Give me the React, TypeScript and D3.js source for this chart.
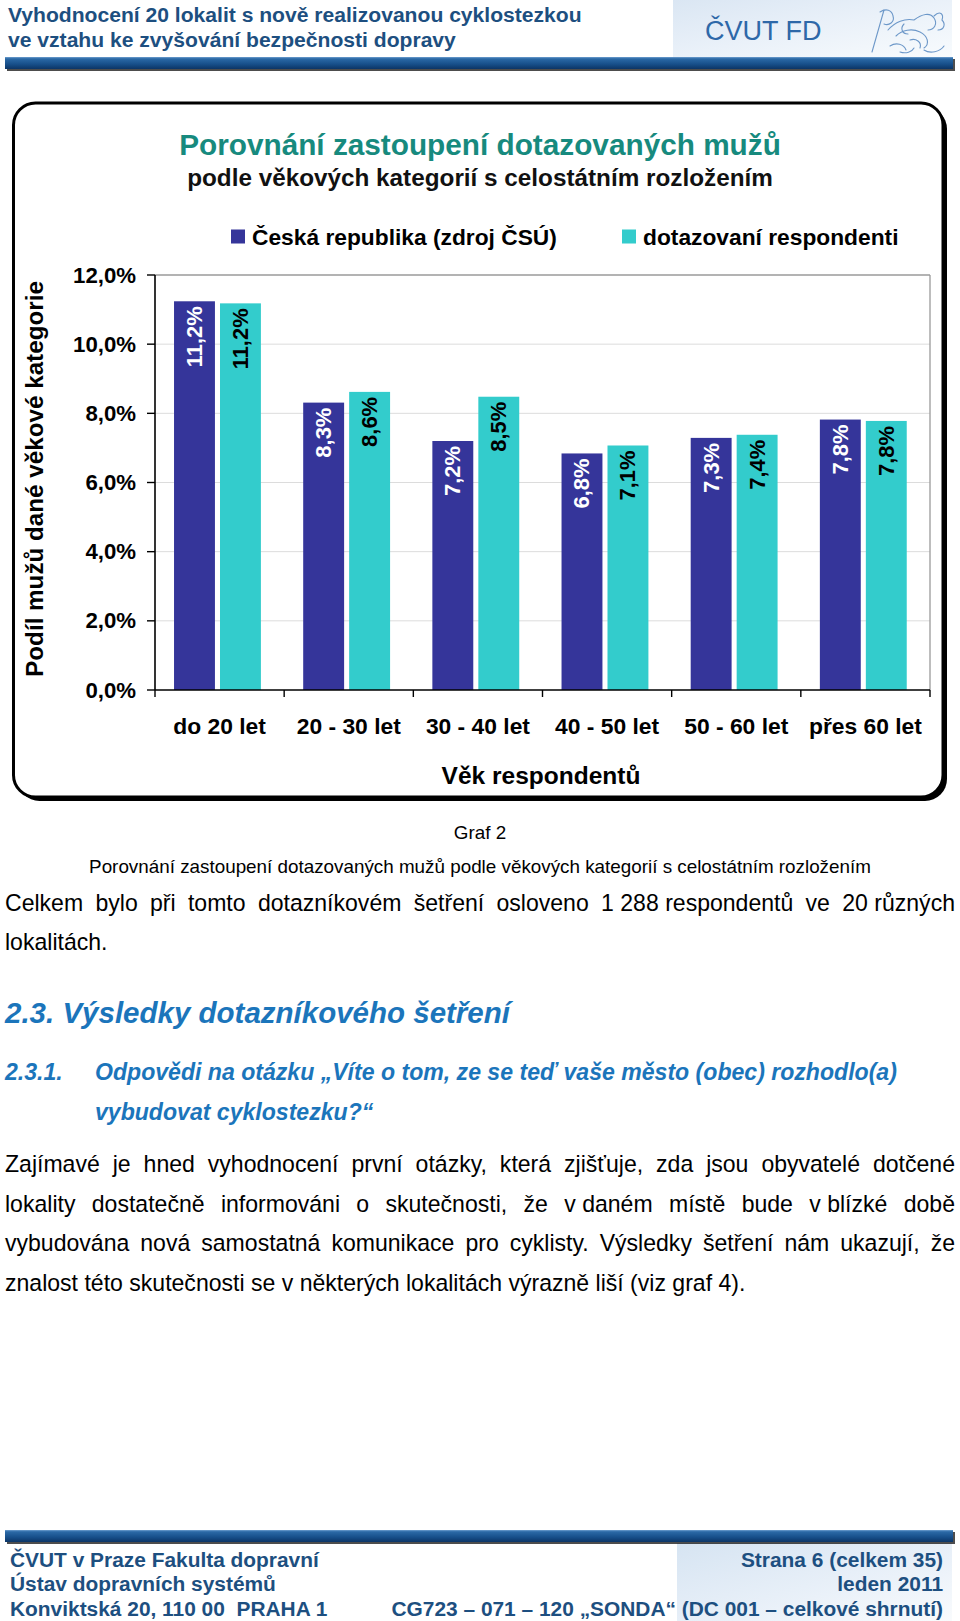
import React, { useMemo } from "react";
import * as d3 from "d3";

// ---------- data ----------
const categories = ["do 20 let", "20 - 30 let", "30 - 40 let", "40 - 50 let", "50 - 60 let", "přes 60 let"];
const seriesKeys = ["cz", "resp"];
const seriesNames = ["Česká republika (zdroj ČSÚ)", "dotazovaní respondenti"];
const czValues = [11.24, 8.31, 7.2, 6.84, 7.29, 7.82];
const respValues = [11.18, 8.62, 8.48, 7.07, 7.38, 7.78];
const yTicks = [0, 2, 4, 6, 8, 10, 12];

const headerLines = [
  "Vyhodnocení 20 lokalit s nově realizovanou cyklostezkou",
  "ve vztahu ke zvyšování bezpečnosti dopravy",
];
const chartTitle = "Porovnání zastoupení dotazovaných mužů";
const chartSubtitle = "podle věkových kategorií s celostátním rozložením";
const yAxisTitle = "Podíl mužů dané věkové kategorie";
const xAxisTitle = "Věk respondentů";
const captionLines = [
  "Graf 2",
  "Porovnání zastoupení dotazovaných mužů podle věkových kategorií s celostátním rozložením",
];
const para1 = [
  "Celkem bylo při tomto dotazníkovém šetření osloveno 1\u00a0288\u00a0respondentů ve 20\u00a0různých",
  "lokalitách.",
];
const heading = "2.3. Výsledky dotazníkového šetření";
const subNumber = "2.3.1.";
const subHeading = [
  "Odpovědi na otázku „Víte o tom, ze se teď vaše město (obec) rozhodlo(a)",
  "vybudovat cyklostezku?“",
];
const para2 = [
  "Zajímavé je hned vyhodnocení první otázky, která zjišťuje, zda jsou obyvatelé dotčené",
  "lokality dostatečně informováni o skutečnosti, že v\u00a0daném místě bude v\u00a0blízké době",
  "vybudována nová samostatná komunikace pro cyklisty. Výsledky šetření nám ukazují, že",
  "znalost této skutečnosti se v některých lokalitách výrazně liší (viz graf 4).",
];
const footerLeft = ["ČVUT v Praze Fakulta dopravní", "Ústav dopravních systémů", "Konviktská 20, 110 00\u00a0 PRAHA 1"];
const footerRight = ["Strana 6 (celkem 35)", "leden 2011", "CG723 – 071 – 120 „SONDA“ (DC 001 – celkové shrnutí)"];

// ---------- style ----------
const FONT = "'Liberation Sans', Arial, Helvetica, sans-serif";
const C_DARK = "#35359a";
const C_TEAL = "#33cccc";
const C_HEAD = "#1d4f80";
const C_TITLE = "#178a7e";
const C_BLUE = "#1b75bb";

let ctx: CanvasRenderingContext2D | null = null;
function measure(text: string, size: number, weight = "normal", style = "normal") {
  if (!ctx) ctx = document.createElement("canvas").getContext("2d");
  ctx!.font = `${style} ${weight} ${size}px 'Liberation Sans'`;
  return ctx!.measureText(text).width;
}
function fit(text: string, width: number, weight = "normal", style = "normal") {
  return (20 * width) / measure(text, 20, weight, style);
}

function JLine(props: any) {
  const { text, x0, x1, y, size, weight = "normal", fstyle = "normal", fill = "#000", justify } = props;
  const common = {
    y,
    fontSize: size,
    fontWeight: weight,
    fontStyle: fstyle,
    fill,
    fontFamily: FONT,
    dominantBaseline: "central" as any,
  };
  if (!justify) return <text x={x0} {...common}>{text}</text>;
  const words = text.split(" ");
  const widths = words.map((w: string) => measure(w, size, weight, fstyle));
  const gap = (x1 - x0 - d3.sum(widths)) / (words.length - 1);
  let cx = x0;
  return (
    <text {...common}>
      {words.map((w: string, i: number) => {
        const xx = cx;
        cx += widths[i] + gap;
        return (
          <tspan key={i} x={xx}>
            {w}
          </tspan>
        );
      })}
    </text>
  );
}

export default function App() {
  const S = useMemo(() => {
    return {
      header: fit(headerLines[0], 574, "bold"),
      title: fit(chartTitle, 602, "bold"),
      subtitle: fit(chartSubtitle, 586, "bold"),
      legend: fit(seriesNames[0], 305, "bold"),
      tick: fit("12,0%", 63, "bold"),
      xlab: fit("přes 60 let", 113, "bold"),
      ytitle: fit(yAxisTitle, 396, "bold"),
      xtitle: fit(xAxisTitle, 199, "bold"),
      dlabel: fit("11,2%", 61, "bold"),
      cap: fit(captionLines[1], 782),
      body: fit(para2[3], 741),
      heading: fit(heading, 505, "bold", "italic"),
      sub: fit(subHeading[0], 802, "bold", "italic"),
      footer: fit(footerRight[2], 552, "bold"),
      cvut: fit("ČVUT FD", 117),
    };
  }, []);

  const plot = { left: 155, right: 930, top: 275, bottom: 690 };
  const x0 = d3.scaleBand<string>().domain(categories).range([plot.left, plot.right]);
  const x1 = d3
    .scaleBand<string>()
    .domain(seriesKeys)
    .range([0, x0.bandwidth()])
    .paddingInner(0.11)
    .paddingOuter(0.46)
    .align(0.45);
  const y = d3.scaleLinear().domain([0, 12]).range([plot.bottom, plot.top]);
  const fmt = d3.format(".1f");
  const lab = (v: number) => fmt(v).replace(".", ",") + "%";
  const color = d3.scaleOrdinal<string, string>().domain(seriesKeys).range([C_DARK, C_TEAL]);
  const labColor = d3.scaleOrdinal<string, string>().domain(seriesKeys).range(["#ffffff", "#000000"]);
  const values: Record<string, number[]> = { cz: czValues, resp: respValues };

  const bodyLineYs1 = [903, 942];
  const bodyLineYs2 = [1164, 1204, 1243, 1283];
  const footYs = [1559, 1583, 1608];

  return (
    <svg
      width={960}
      height={1621}
      viewBox="0 0 960 1621"
      style={{ position: "absolute", left: 0, top: 0, display: "block", background: "#fff" }}
      fontFamily={FONT}
    >
      <defs>
        <linearGradient id="barGrad" x1="0" y1="0" x2="0" y2="1">
          <stop offset="0" stopColor="#6f9fcf" />
          <stop offset="0.15" stopColor="#2b69a6" />
          <stop offset="0.6" stopColor="#174f8a" />
          <stop offset="1" stopColor="#0c3566" />
        </linearGradient>
        <linearGradient id="boxGrad" x1="0" y1="0" x2="1" y2="1">
          <stop offset="0" stopColor="#dae6f3" />
          <stop offset="0.5" stopColor="#eaf1f9" />
          <stop offset="1" stopColor="#f8fbfd" />
        </linearGradient>
        <linearGradient id="boxGrad2" x1="0" y1="0" x2="1" y2="1">
          <stop offset="0" stopColor="#d6e4f2" />
          <stop offset="0.6" stopColor="#eaf1f9" />
          <stop offset="1" stopColor="#f9fbfd" />
        </linearGradient>
      </defs>
      <rect x={0} y={0} width={960} height={1621} fill="#fff" />

      {/* ---------- header ---------- */}
      <rect x={673} y={0} width={279} height={57} fill="url(#boxGrad)" />
      {headerLines.map((t, i) => (
        <text
          key={i}
          x={8}
          y={[14.5, 39][i]}
          fontSize={S.header}
          fontWeight="bold"
          fill={C_HEAD}
          dominantBaseline="central"
        >
          {t}
        </text>
      ))}
      <text x={705} y={31} fontSize={S.cvut} fill="#2e68a8" dominantBaseline="central">
        ČVUT FD
      </text>
      <g fill="none" stroke="#6d98c9" strokeWidth={1.1} strokeLinecap="round">
        <path d="M872,52 L884,10" />
        <path d="M880,12 C886,8 892,10 893,16 C895,22 889,26 884,24" />
        <path d="M888,30 C895,22 905,18 914,20 C922,14 930,12 934,18 C938,24 934,30 928,30" />
        <path d="M896,36 C902,30 912,28 920,32 C928,36 930,44 924,48" />
        <path d="M890,46 C896,42 904,44 906,50 M910,40 C916,38 922,42 920,48" />
        <path d="M934,16 C940,10 944,14 942,20 C946,24 944,30 938,30" />
        <path d="M924,50 C930,54 940,52 944,46 M900,52 C906,54 912,52 914,48" />
        <path d="M904,24 C900,28 902,34 908,34" />
      </g>
      <rect x={7} y={59} width={948} height={12} fill="#111" opacity={0.75} />
      <rect x={5} y={57} width={948} height={12} fill="url(#barGrad)" />

      {/* ---------- chart box ---------- */}
      <rect x={17.5} y={107} width={929.5} height={694} rx={22} fill="#000" />
      <rect x={13.5} y={103} width={929.5} height={694} rx={22} fill="#fff" stroke="#000" strokeWidth={3} />

      <text x={480} y={144} textAnchor="middle" fontSize={S.title} fontWeight="bold" fill={C_TITLE} dominantBaseline="central">
        {chartTitle}
      </text>
      <text x={480} y={177} textAnchor="middle" fontSize={S.subtitle} fontWeight="bold" fill="#111" dominantBaseline="central">
        {chartSubtitle}
      </text>

      {/* legend */}
      {seriesKeys.map((k, i) => {
        const lx = [231, 622][i];
        return (
          <g key={k}>
            <rect x={lx} y={229.5} width={14} height={14} fill={color(k)} />
            <text x={lx + 21} y={237} fontSize={S.legend} fontWeight="bold" fill="#000" dominantBaseline="central">
              {seriesNames[i]}
            </text>
          </g>
        );
      })}

      {/* grid */}
      {yTicks.slice(1, -1).map((t) => (
        <line key={t} x1={plot.left} x2={plot.right} y1={y(t)} y2={y(t)} stroke="#dcdcdc" strokeWidth={1} />
      ))}
      <line x1={plot.left} x2={plot.right} y1={y(12)} y2={y(12)} stroke="#9a9a9a" strokeWidth={1.3} />
      <line x1={plot.right} x2={plot.right} y1={y(12)} y2={y(0)} stroke="#9a9a9a" strokeWidth={1.3} />

      {/* bars */}
      {categories.map((c, ci) => (
        <g key={c}>
          {seriesKeys.map((k) => {
            const v = values[k][ci];
            const bx = (x0(c) as number) + (x1(k) as number);
            const bw = x1.bandwidth();
            const top = y(v);
            return (
              <g key={k}>
                <rect x={bx} y={top} width={bw} height={y(0) - top} fill={color(k)} />
                <text
                  transform={`translate(${bx + bw / 2},${top + 5}) rotate(-90)`}
                  textAnchor="end"
                  dominantBaseline="central"
                  fontSize={S.dlabel}
                  fontWeight="bold"
                  fill={labColor(k)}
                >
                  {lab(v)}
                </text>
              </g>
            );
          })}
        </g>
      ))}

      {/* axes */}
      <line x1={plot.left} x2={plot.left} y1={y(12)} y2={y(0)} stroke="#000" strokeWidth={1.6} />
      <line x1={plot.left} x2={plot.right} y1={y(0)} y2={y(0)} stroke="#000" strokeWidth={1.6} />
      {yTicks.map((t) => (
        <g key={t}>
          <line x1={plot.left - 8} x2={plot.left} y1={y(t)} y2={y(t)} stroke="#000" strokeWidth={1.4} />
          <text x={136} y={y(t)} textAnchor="end" fontSize={S.tick} fontWeight="bold" dominantBaseline="central">
            {fmt(t).replace(".", ",") + "%"}
          </text>
        </g>
      ))}
      {categories.map((c, i) => (
        <line key={"t" + i} x1={x0(c)} x2={x0(c)} y1={y(0)} y2={y(0) + 7} stroke="#000" strokeWidth={1.4} />
      ))}
      <line x1={plot.right} x2={plot.right} y1={y(0)} y2={y(0) + 7} stroke="#000" strokeWidth={1.4} />
      {categories.map((c) => (
        <text
          key={"l" + c}
          x={(x0(c) as number) + x0.bandwidth() / 2}
          y={726}
          textAnchor="middle"
          fontSize={S.xlab}
          fontWeight="bold"
          dominantBaseline="central"
        >
          {c}
        </text>
      ))}
      <text
        transform="translate(34.5,479) rotate(-90)"
        textAnchor="middle"
        dominantBaseline="central"
        fontSize={S.ytitle}
        fontWeight="bold"
      >
        {yAxisTitle}
      </text>
      <text x={541} y={775} textAnchor="middle" dominantBaseline="central" fontSize={S.xtitle} fontWeight="bold">
        {xAxisTitle}
      </text>

      {/* ---------- caption & body ---------- */}
      {captionLines.map((t, i) => (
        <text key={i} x={480} y={[832, 866][i]} textAnchor="middle" dominantBaseline="central" fontSize={S.cap} fill="#000">
          {t}
        </text>
      ))}
      {para1.map((t, i) => (
        <JLine key={i} text={t} x0={5} x1={955} y={bodyLineYs1[i]} size={S.body} justify={i === 0} />
      ))}
      <text x={5} y={1012} fontSize={S.heading} fontWeight="bold" fontStyle="italic" fill={C_BLUE} dominantBaseline="central">
        {heading}
      </text>
      <text x={5} y={1072} fontSize={S.sub} fontWeight="bold" fontStyle="italic" fill={C_BLUE} dominantBaseline="central">
        {subNumber}
      </text>
      {subHeading.map((t, i) => (
        <text
          key={i}
          x={95}
          y={[1072, 1112][i]}
          fontSize={S.sub}
          fontWeight="bold"
          fontStyle="italic"
          fill={C_BLUE}
          dominantBaseline="central"
        >
          {t}
        </text>
      ))}
      {para2.map((t, i) => (
        <JLine key={i} text={t} x0={5} x1={955} y={bodyLineYs2[i]} size={S.body} justify={i < para2.length - 1} />
      ))}

      {/* ---------- footer ---------- */}
      <rect x={677} y={1543} width={275} height={78} fill="url(#boxGrad2)" />
      <rect x={7} y={1532} width={948} height={12} fill="#111" opacity={0.75} />
      <rect x={5} y={1530} width={948} height={12} fill="url(#barGrad)" />
      {footerLeft.map((t, i) => (
        <text key={"fl" + i} x={10} y={footYs[i]} fontSize={S.footer} fontWeight="bold" fill={C_HEAD} dominantBaseline="central">
          {t}
        </text>
      ))}
      {footerRight.map((t, i) => (
        <text
          key={"fr" + i}
          x={943}
          y={footYs[i]}
          textAnchor="end"
          fontSize={S.footer}
          fontWeight="bold"
          fill={C_HEAD}
          dominantBaseline="central"
        >
          {t}
        </text>
      ))}
    </svg>
  );
}
